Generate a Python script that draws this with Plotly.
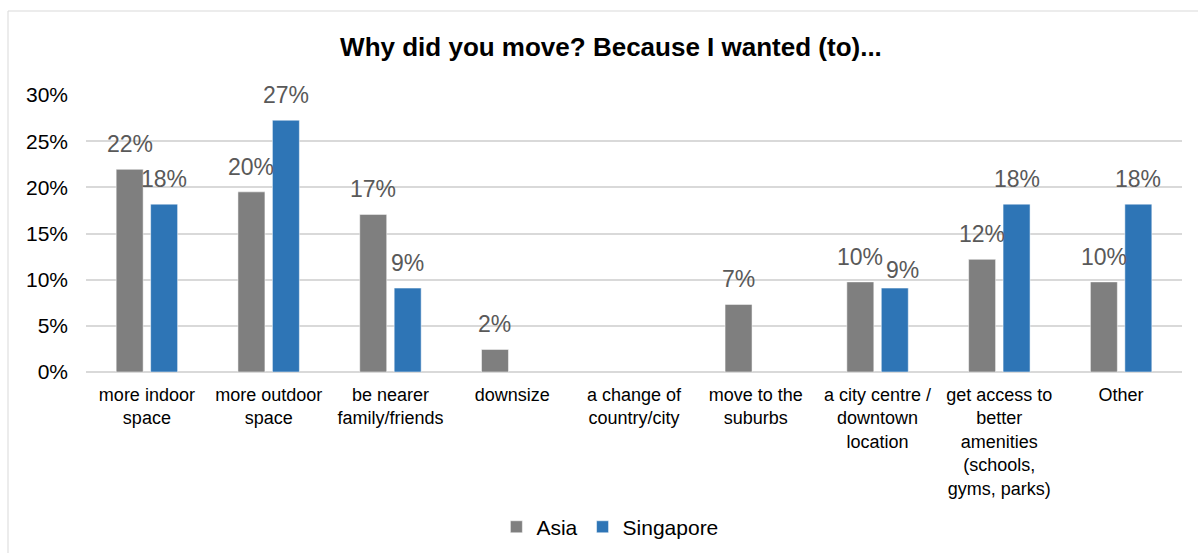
import plotly.graph_objects as go

# Survey reasons for moving, share of respondents
categories = [
    "more indoor<br>space",
    "more outdoor<br>space",
    "be nearer<br>family/friends",
    "downsize",
    "a change of<br>country/city",
    "move to the<br>suburbs",
    "a city centre /<br>downtown<br>location",
    "get access to<br>better<br>amenities<br>(schools,<br>gyms, parks)",
    "Other",
]
asia = [21.95, 19.51, 17.07, 2.44, None, 7.32, 9.76, 12.20, 9.76]
singapore = [18.18, 27.27, 9.09, None, None, None, 9.09, 18.18, 18.18]
y_ticks = [0, 5, 10, 15, 20, 25, 30]
y_tick_labels = ["0%", "5%", "10%", "15%", "20%", "25%", "30%"]

GREY = "#7F7F7F"
BLUE = "#2E75B6"
FONT = "Liberation Sans, Arial, sans-serif"

fig = go.Figure()
fig.add_trace(go.Bar(name="Asia", x=categories, y=asia, marker_color=GREY,
                     marker_line=dict(color="rgba(255,255,255,0.5)", width=1)))
fig.add_trace(go.Bar(name="Singapore", x=categories, y=singapore, marker_color=BLUE,
                     marker_line=dict(color="rgba(255,255,255,0.5)", width=1)))

# value labels centred above each bar; one label nudged aside so it clears its neighbour
nudges = {("Singapore", 6): (8, -7)}
annotations = []
for name, values, shift in (("Asia", asia, -17.25), ("Singapore", singapore, 17.25)):
    for i, (cat, v) in enumerate(zip(categories, values)):
        if v is None:
            continue
        dx, dy = nudges.get((name, i), (0, 0))
        annotations.append(dict(
            x=cat, y=v, xref="x", yref="y", text=f"{round(v):.0f}%",
            showarrow=False, xshift=shift + dx, yshift=25 + dy,
            xanchor="center", yanchor="middle",
            font=dict(family=FONT, size=23, color="#595959"),
        ))

fig.update_layout(
    width=1198, height=553,
    margin=dict(l=86, r=16, t=95, b=181, autoexpand=False),
    paper_bgcolor="white", plot_bgcolor="white",
    barmode="group", bargap=0.434, bargroupgap=0.217,
    title=dict(text="<b>Why did you move? Because I wanted (to)...</b>",
               x=0.51, xanchor="center", y=0.915, yanchor="middle",
               font=dict(family=FONT, size=26, color="#000000")),
    font=dict(family=FONT, color="#000000"),
    showlegend=True,
    legend=dict(orientation="h", x=0.478, xanchor="center", y=-0.56, yanchor="middle",
                font=dict(family=FONT, size=21, color="#000000"),
                itemwidth=30, traceorder="normal"),
    annotations=annotations,
    shapes=[dict(type="rect", xref="paper", yref="paper",
                 x0=(8 - 86) / 1096, x1=1.05, y0=-0.75, y1=1 + (95 - 11) / 277,
                 line=dict(color="#D9D9D9", width=1), fillcolor="rgba(0,0,0,0)",
                 layer="below")],
)
fig.update_xaxes(showgrid=False, showline=False, ticks="", automargin=False,
                 ticklabelstandoff=10,
                 tickfont=dict(family=FONT, size=18, color="#000000"),
                 tickangle=0)
fig.update_yaxes(range=[0, 30], tickvals=y_ticks, ticktext=y_tick_labels,
                 showgrid=True, gridcolor="#D9D9D9", gridwidth=1.5,
                 zeroline=True, zerolinecolor="#D9D9D9", zerolinewidth=1.5,
                 showline=False, ticks="", ticklabelstandoff=17, automargin=False,
                 tickfont=dict(family=FONT, size=21, color="#000000"))

fig.write_html("out.html")
